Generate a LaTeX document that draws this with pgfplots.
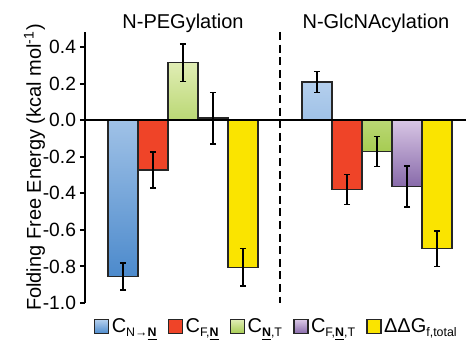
\documentclass[border=0pt]{standalone}
\usepackage{pgfplots}
\pgfplotsset{compat=1.18}
\usepackage{fontspec}
\setmainfont{Liberation Sans}
\definecolor{bluetop}{RGB}{180,207,237}
\definecolor{bluebot}{RGB}{76,138,204}
\definecolor{redc}{RGB}{239,68,40}
\definecolor{greentop}{RGB}{224,237,180}
\definecolor{greenbot}{RGB}{166,204,82}
\definecolor{purptop}{RGB}{218,200,230}
\definecolor{purpbot}{RGB}{136,106,170}
\definecolor{yellowc}{RGB}{250,228,0}
\newcommand{\NB}{\underline{\textbf{N}}}
\newcommand{\sub}[1]{\raisebox{-2.2pt}{\fontsize{6.2}{7}\selectfont #1}}
\begin{document}
\begin{tikzpicture}[font=\fontsize{10}{12}\selectfont]
\useasboundingbox (0,0) rectangle (233pt,170.5pt);
\begin{axis}[
  at={(42.5pt,19pt)}, anchor=south west,
  scale only axis, width=189pt, height=135.5pt,
  xmin=-1.267, xmax=11.333, ymin=-1.0, ymax=0.4825,
  axis x line=none, axis y line*=left,
  axis line style={line width=1pt, -},
  ytick={-1.0,-0.8,-0.6,-0.4,-0.2,0.0,0.2,0.4},
  yticklabel style={font=\fontsize{9.6}{11}\selectfont, xshift=1.5pt,
    /pgf/number format/fixed, /pgf/number format/fixed zerofill,
    /pgf/number format/precision=1, /pgf/number format/assume math mode=true},
  major tick length=2.5pt, tick align=outside,
  tick style={line width=1pt, black},
  ylabel={Folding Free Energy (kcal mol\textsuperscript{-1})},
  ylabel style={font=\fontsize{10}{12}\selectfont},
  ylabel shift=-8pt,
  clip=false,
  ybar, bar width=1, bar shift=0pt,
  every axis plot/.append style={draw=black!85, line width=0.75pt},
  error bars/y dir=both, error bars/y explicit,
  error bars/error bar style={line width=0.75pt, black},
  error bars/error mark options={rotate=90, mark size=1.6pt, line width=0.75pt, black},
  legend columns=5,
  legend style={draw=none, fill=none, at={(0.507,-0.087)}, anchor=center,
    font=\fontsize{10}{12}\selectfont,
    /tikz/every even column/.append style={column sep=4.5pt},
    nodes={inner xsep=1.2pt, inner ysep=0pt}},
  legend image code/.code={\draw[#1, draw=black!85, line width=0.6pt] (0pt,-3.5pt) rectangle (7pt,3.5pt);},
]
\addplot[top color=bluetop, bottom color=bluebot] coordinates {(0,-0.855) +- (0,0.075) (6.467,0.209) +- (0,0.057)};
\addlegendentry{C\sub{N→\NB}}
\addplot[fill=redc] coordinates {(1,-0.272) +- (0,0.098) (7.467,-0.379) +- (0,0.081)};
\addlegendentry{C\sub{F,\NB}}
\addplot[top color=greentop, bottom color=greenbot] coordinates {(2,0.315) +- (0,0.103) (8.467,-0.171) +- (0,0.081)};
\addlegendentry{C\sub{\NB,T}}
\addplot[top color=purptop, bottom color=purpbot] coordinates {(3,0.011) +- (0,0.141) (9.467,-0.363) +- (0,0.113)};
\addlegendentry{C\sub{F,\NB,T}}
\addplot[fill=yellowc] coordinates {(4,-0.805) +- (0,0.103) (10.467,-0.703) +- (0,0.098)};
\addlegendentry{ΔΔG\sub{f,total}}
\draw[line width=0.7pt] (axis cs:-1.267,0) -- (axis cs:11.433,0);
\draw[line width=1pt, dash pattern=on 4pt off 2.3pt] (axis cs:5.233,0.4825) -- (axis cs:5.233,-1.0);
\node[anchor=base] at (axis cs:2,0.504) {N-PEGylation};
\node[anchor=base] at (axis cs:8.43,0.504) {N-GlcNAcylation};
\end{axis}
\end{tikzpicture}
\end{document}
